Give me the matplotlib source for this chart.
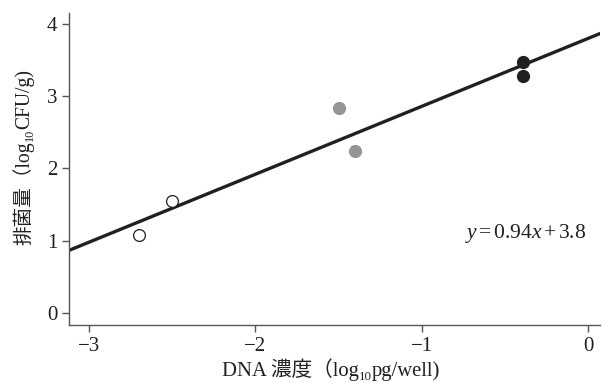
import numpy as np
import matplotlib
matplotlib.use("Agg")
import matplotlib.pyplot as plt

FAMILY = ["Liberation Serif", "Noto Sans CJK JP"]
plt.rcParams["font.family"] = FAMILY
plt.rcParams["mathtext.fontset"] = "custom"
plt.rcParams["mathtext.rm"] = "Liberation Serif"
plt.rcParams["mathtext.it"] = "Liberation Serif:italic"

# data
open_x = [-2.70, -2.50]
open_y = [1.08, 1.55]
gray_x = [-1.50, -1.40]
gray_y = [2.83, 2.245]
black_x = [-0.39, -0.39]
black_y = [3.47, 3.28]
slope, intercept = 0.94, 3.8
xlim = (-3.12, 0.07)
ylim = (-0.165, 4.15)
xticks = [-3, -2, -1, 0]
yticks = [0, 1, 2, 3, 4]

INK = "#231f20"


def rich_label(fig, cx, cy, pieces, size, vertical=False):
    """Draw text pieces (text, is_sub) one after another, centred on (cx, cy) px."""
    r = fig.canvas.get_renderer()
    widths = []
    for s, sub in pieces:
        t = fig.text(0, 0, s, fontsize=size * (0.62 if sub else 1.0))
        widths.append(t.get_window_extent(r).width)
        t.remove()
    total = sum(widths)
    pos = -total / 2
    W, H = fig.bbox.width, fig.bbox.height
    for (s, sub), w in zip(pieces, widths):
        drop = -0.2 * size * fig.dpi / 72 if sub else 0
        if vertical:
            x, y, rot = cx - drop, cy + pos, 90
        else:
            x, y, rot = cx + pos, cy + drop, 0
        fig.text(x / W, y / H, s, fontsize=size * (0.62 if sub else 1.0),
                 rotation=rot, rotation_mode="anchor", ha="left", va="baseline",
                 color=INK)
        pos += w


fig = plt.figure(figsize=(6.03, 3.83), dpi=100)
ax = fig.add_axes([0.1144, 0.1514, 0.8806, 0.8146])

xs = np.array(xlim)
ax.plot(xs, slope * xs + intercept, color=INK, lw=2.4, zorder=2)
ax.plot(open_x, open_y, "o", ms=8.5, mfc="white", mec=INK, mew=0.9, zorder=3)
ax.plot(gray_x, gray_y, "o", ms=8.5, mfc="#939598", mec="#939598", zorder=3)
ax.plot(black_x, black_y, "o", ms=8.5, mfc=INK, mec=INK, zorder=3)

ax.text(-0.01, 1.10, "$y\\,$=$\\,$0.94$x\\,$+$\\,$3.8", ha="right", va="center",
        fontsize=15.5, color=INK)

ax.set_xlim(*xlim)
ax.set_ylim(*ylim)
ax.set_xticks(xticks)
ax.set_yticks(yticks)
ax.tick_params(direction="out", length=5, width=1, colors="#555555",
               labelsize=15, labelcolor=INK)
for side in ("top", "right"):
    ax.spines[side].set_visible(False)
for side in ("left", "bottom"):
    ax.spines[side].set_color("#555555")
    ax.spines[side].set_linewidth(1.0)

# axis titles (CJK + subscript, so built from pieces)
rich_label(fig, 331, 383 - 376,
           [("DNA 濃度（log", False), ("10", True), ("pg/well)", False)], 14.9)
rich_label(fig, 29, 383 - 157,
           [("排菌量（log", False), ("10", True), ("CFU/g)", False)], 14.1,
           vertical=True)

fig.savefig("out.png", dpi=100)
